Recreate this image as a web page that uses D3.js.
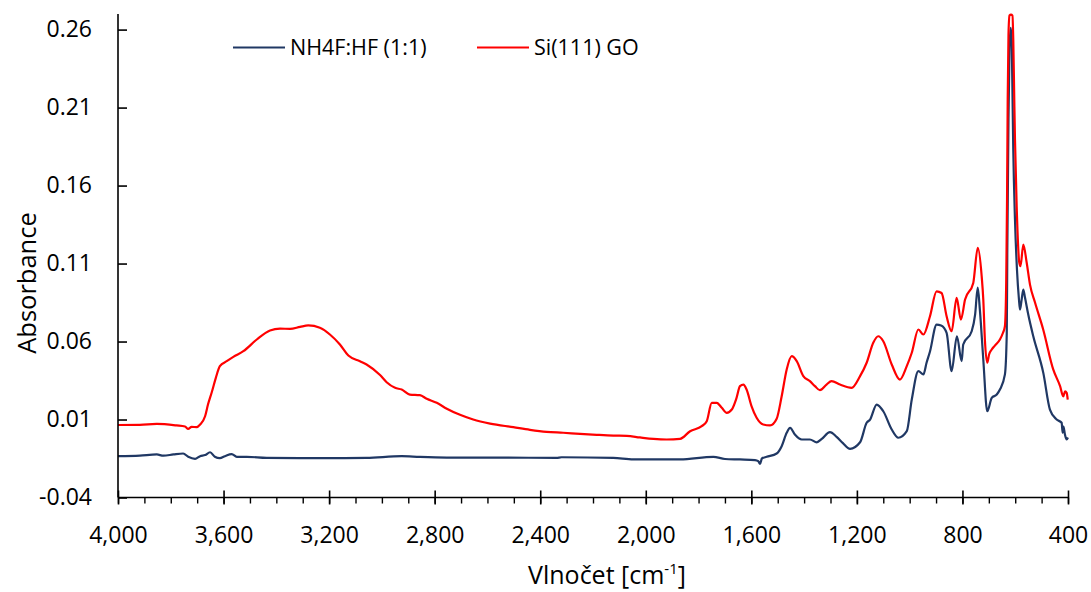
<!DOCTYPE html>
<html>
<head>
<meta charset="utf-8">
<script src="https://cdn.jsdelivr.net/npm/d3@7/dist/d3.min.js"></script>
<style>
  html, body { margin: 0; padding: 0; background: #fff; }
  svg { display: block; font-family: "Open Sans", "Liberation Sans", sans-serif; }
</style>
</head>
<body>
<svg id="chart" width="1091" height="592"></svg>
<script>
// FTIR absorbance spectra, wavenumber in cm^-1
const seriesNames = ["NH4F:HF (1:1)", "Si(111) GO"];
const seriesColors = ["#203864", "#ff0000"];

// Si(111) GO
const redWn = [4000,3917,3853,3778,3746,3734,3721,3702,3689,3670,3659,3645,3629,3614,3588,3563,3525,3474,3424,3386,
  3348,3310,3279,3235,3197,3159,3127,3083,3058,3007,2982,2950,2925,2894,2856,2830,2792,2754,2704,2654,
  2590,2502,2439,2376,2313,2249,2186,2123,2072,2022,1971,1921,1870,1832,1788,1769,1750,1731,1712,1693,
  1674,1656,1643,1630,1618,1599,1580,1555,1529,1504,1485,1466,1447,1428,1403,1378,1359,1340,1315,1296,
  1264,1220,1188,1163,1138,1119,1100,1068,1037,1011,992,967,948,923,898,879,860,841,822,806,
  790,759,742,727,721,715,706,699,689,677,658,646,639,634,631,628.5,625.5,621.7,616,610.4,
  607.4,603.6,600.9,594.5,584.5,580,569.4,556.5,544,525,494,456,430,418,411,405,401];
const redAbs = [0.0065,0.0066,0.0072,0.0062,0.0055,0.0040,0.0053,0.0051,0.0068,0.0121,0.0196,0.0273,0.0369,0.0442,0.0474,0.0502,0.0538,0.0613,0.0671,0.0683,
  0.0681,0.0694,0.0703,0.0688,0.0645,0.0581,0.0510,0.0474,0.0453,0.0385,0.0339,0.0303,0.0292,0.0260,0.0256,0.0233,0.0207,0.0169,0.0130,0.0100,
  0.0074,0.0051,0.0034,0.0021,0.0015,0.0008,0.0002,-0.0003,-0.0005,-0.0015,-0.0024,-0.0028,-0.0024,0.0025,0.0057,0.0089,0.0207,0.0207,0.0175,0.0143,
  0.0164,0.0239,0.0314,0.0324,0.0292,0.0185,0.0111,0.0068,0.0062,0.0105,0.0249,0.0421,0.0506,0.0474,0.0378,0.0346,0.0314,0.0288,0.0324,0.0346,
  0.0324,0.0303,0.0378,0.0464,0.0592,0.0634,0.0602,0.0453,0.0356,0.0442,0.0528,0.0677,0.0645,0.0762,0.0922,0.0911,0.0762,0.0666,0.0880,0.0741,
  0.0869,0.0976,0.1201,0.1017,0.0869,0.0613,0.0464,0.0517,0.0549,0.0574,0.0613,0.0658,0.0698,0.0997,0.1510,0.2151,0.2568,0.2690,0.2696,0.2690,
  0.2536,0.2151,0.1895,0.1467,0.1105,0.1084,0.1222,0.1105,0.0965,0.0850,0.0677,0.0421,0.0314,0.0249,0.0280,0.0271,0.0228];

// NH4F:HF (1:1)
const blueWn = [4000,3917,3853,3828,3790,3753,3734,3708,3689,3670,3651,3633,3614,3595,3569,3550,3512,3437,3310,3184,
  3058,2925,2856,2754,2552,2338,2319,2123,2047,1870,1744,1700,1643,1586,1574,1567,1560,1542,1504,1485,
  1466,1453,1435,1409,1378,1352,1333,1302,1277,1253,1226,1188,1163,1150,1125,1100,1068,1043,1011,992,
  967,948,936,923,898,881,860,841,821,803,797,765,752,742,734,721,706,689,670,658,
  639,632,630,625.5,621.7,617.2,613.4,611.1,607.4,600.9,593.4,585.8,582,575.6,569.4,563,550.6,531.6,493.6,468.5,
  443,424,420.4,417.3,411.6,405.2,400.2];
const blueAbs = [-0.0135,-0.0131,-0.0124,-0.0132,-0.0124,-0.0118,-0.0139,-0.0152,-0.0135,-0.0128,-0.0110,-0.0139,-0.0148,-0.0135,-0.0122,-0.0139,-0.0139,-0.0146,-0.0148,-0.0148,
  -0.0146,-0.0135,-0.0140,-0.0144,-0.0144,-0.0146,-0.0142,-0.0146,-0.0156,-0.0156,-0.0139,-0.0153,-0.0156,-0.0160,-0.0167,-0.0184,-0.0150,-0.0139,-0.0118,-0.0071,
  0.0015,0.0047,0.0004,-0.0028,-0.0028,-0.0046,-0.0024,0.0019,-0.0011,-0.0051,-0.0088,-0.0046,0.0079,0.0100,0.0196,0.0153,0.0036,-0.0017,0.0025,0.0228,
  0.0410,0.0389,0.0464,0.0536,0.0709,0.0703,0.0656,0.0410,0.0634,0.0474,0.0581,0.0666,0.0773,0.0946,0.0805,0.0485,0.0153,0.0239,0.0260,0.0292,
  0.0389,0.0656,0.1190,0.2023,0.2472,0.2611,0.2536,0.2280,0.1831,0.1382,0.1062,0.0869,0.0805,0.0869,0.0933,0.0882,0.0773,0.0634,0.0399,0.0164,
  0.0100,0.0079,0.0015,0.0055,0.0004,-0.0028,-0.0015];

// axis ticks
const xTicks = [4000,3600,3200,2800,2400,2000,1600,1200,800,400];
const xMinorTicks = d3.range(400, 4001, 100);
const yTicks = [-0.04,0.01,0.06,0.11,0.16,0.21,0.26];

const svg = d3.select("#chart");
svg.append("rect").attr("width",1091).attr("height",592).attr("fill","#fff");

const x = d3.scaleLinear().domain([4000, 400]).range([118, 1068]);
const y = d3.scaleLinear().domain([-0.04, 0.27]).range([497.5, 14]);

const line = d3.line()
  .x(d => x(d[0]))
  .y(d => y(d[1]))
  .curve(d3.curveMonotoneX);

const series = [
  d3.zip(blueWn, blueAbs),
  d3.zip(redWn, redAbs)
];

svg.selectAll("path.spectrum")
  .data(series)
  .join("path")
  .attr("class","spectrum")
  .attr("fill","none")
  .attr("stroke",(d,i) => seriesColors[i])
  .attr("stroke-width",2.2)
  .attr("stroke-linejoin","round")
  .attr("d", line);

// y axis with inward ticks
const yAxis = d3.axisLeft(y)
  .tickValues(yTicks)
  .tickSize(-9)
  .tickPadding(26)
  .tickFormat(v => v.toFixed(2));
const gy = svg.append("g").attr("transform","translate(118,0)").call(yAxis);
gy.select(".domain").attr("d","M0,14V497.5").attr("stroke","#000").attr("stroke-width",1.6);
gy.selectAll(".tick line").attr("stroke","#000").attr("stroke-width",1.6);
gy.selectAll(".tick text").attr("font-size",23).attr("fill","#000")
  .attr("font-family","'Open Sans', sans-serif");

// x axis: minor ticks outside, major ticks crossing
const gxMinor = svg.append("g").attr("transform","translate(0,497.5)")
  .call(d3.axisBottom(x).tickValues(xMinorTicks).tickSize(6).tickFormat(""));
gxMinor.select(".domain").remove();
gxMinor.selectAll(".tick line").attr("stroke","#000").attr("stroke-width",1.4);

const xAxis = d3.axisBottom(x)
  .tickValues(xTicks)
  .tickSize(0)
  .tickPadding(29)
  .tickFormat(d3.format(","));
const gx = svg.append("g").attr("transform","translate(0,497.5)").call(xAxis);
gx.select(".domain").attr("d","M118,0H1068").attr("stroke","#000").attr("stroke-width",1.6);
gx.selectAll(".tick").append("line")
  .attr("y1",-7).attr("y2",7).attr("stroke","#000").attr("stroke-width",1.6);
gx.selectAll(".tick text").attr("font-size",23).attr("fill","#000")
  .attr("font-family","'Open Sans', sans-serif");

// axis titles
const xt = svg.append("text")
  .attr("x", 607).attr("y", 584)
  .attr("text-anchor","middle")
  .attr("font-size",25).attr("fill","#000");
xt.append("tspan").text("Vlnočet [cm");
xt.append("tspan").attr("font-size",15).attr("dy",-10).text("-1");
xt.append("tspan").attr("dy",10).text("]");

svg.append("text")
  .attr("transform","translate(36,283) rotate(-90)")
  .attr("text-anchor","middle")
  .attr("font-size",25.5).attr("fill","#000")
  .text("Absorbance");

// legend
const legendX = [233, 477];
const legend = svg.append("g");
seriesNames.forEach((name, i) => {
  legend.append("line")
    .attr("x1", legendX[i]).attr("x2", legendX[i] + 52)
    .attr("y1", 47.5).attr("y2", 47.5)
    .attr("stroke", seriesColors[i]).attr("stroke-width", 2);
  legend.append("text")
    .attr("x", legendX[i] + 57).attr("y", 55)
    .attr("font-size", 21.5).attr("fill", "#000")
    .text(name);
});
</script>
</body>
</html>
